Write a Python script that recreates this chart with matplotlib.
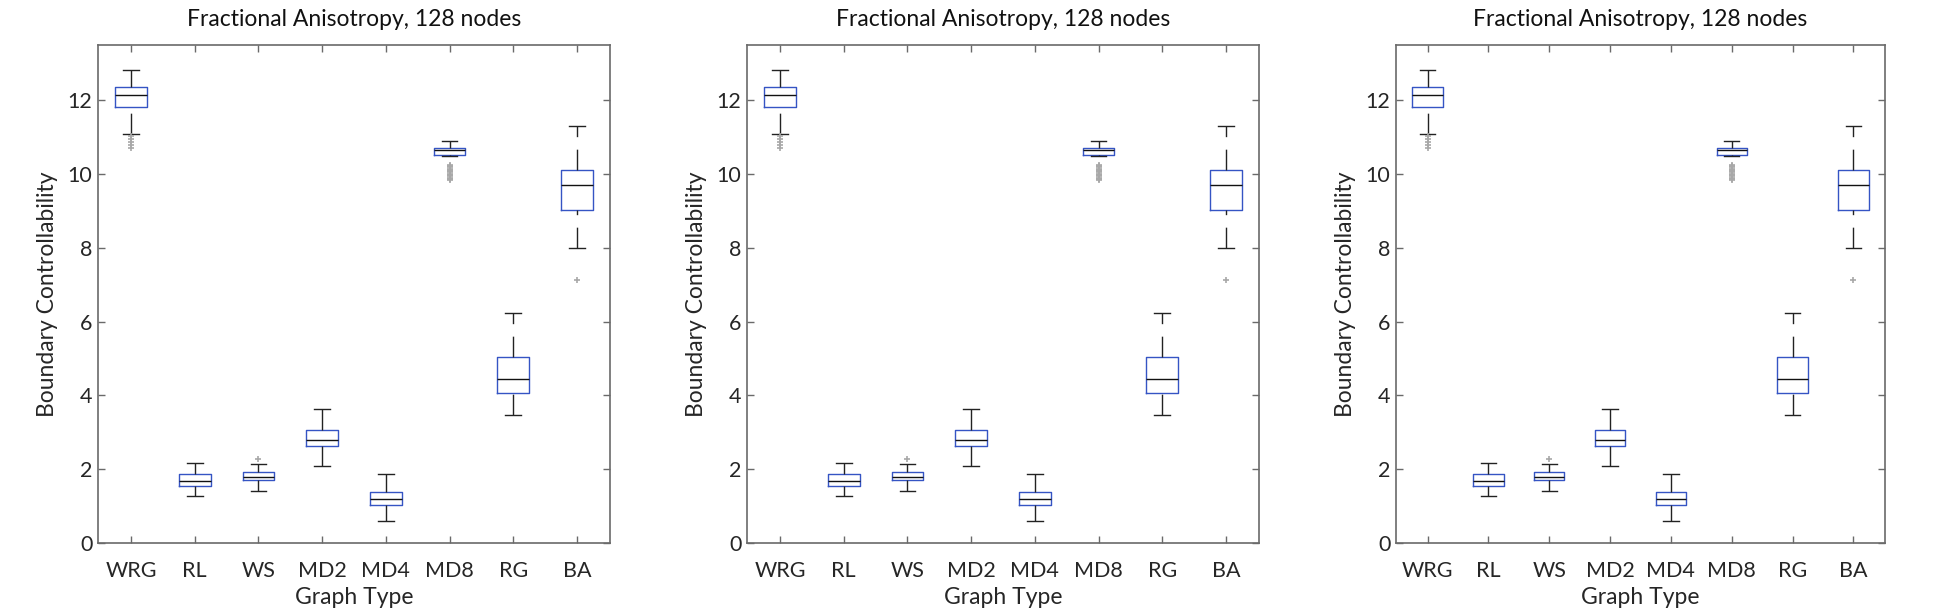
import numpy as np
import matplotlib
matplotlib.use("Agg")
import matplotlib.pyplot as plt

plt.rcParams['font.family'] = ['Lato', 'DejaVu Sans']

# graph types on the x axis
categories = ['WRG', 'RL', 'WS', 'MD2', 'MD4', 'MD8', 'RG', 'BA']

# box statistics (same in all three panels)
whislo = [11.08, 1.27, 1.40, 2.10, 0.59, 10.49, 3.48, 8.00]
q1 = [11.82, 1.54, 1.72, 2.63, 1.02, 10.53, 4.06, 9.03]
med = [12.14, 1.69, 1.80, 2.79, 1.19, 10.66, 4.44, 9.70]
q3 = [12.35, 1.88, 1.92, 3.05, 1.38, 10.72, 5.03, 10.12]
whishi = [12.83, 2.16, 2.13, 3.63, 1.87, 10.90, 6.24, 11.31]
fliers = [
    [11.03, 10.95, 10.87, 10.80, 10.72],
    [],
    [2.28],
    [],
    [],
    [10.26, 10.22, 10.19, 10.15, 10.12, 10.08, 10.05, 10.01, 9.98,
     9.94, 9.90, 9.86, 9.83],
    [],
    [7.14],
]

title = 'Fractional Anisotropy, 128 nodes'
xlabel = 'Graph Type'
ylabel = 'Boundary Controllability'
yticks = [0, 2, 4, 6, 8, 10, 12]

W, H = 1934, 611
# axes boxes in pixels: left, right (top/bottom shared)
panels = [(98, 610), (747, 1259), (1396, 1885)]
top, bottom = 45, 543

text_col = '#262626'
axis_col = '#6a6a6a'
box_col = '#3554c4'

fig = plt.figure(figsize=(W / 100, H / 100), dpi=100)

stats = []
for i in range(len(categories)):
    stats.append(dict(med=med[i], q1=q1[i], q3=q3[i], whislo=whislo[i],
                      whishi=whishi[i], fliers=fliers[i]))

for left, right in panels:
    ax = fig.add_axes([left / W, 1 - bottom / H, (right - left) / W,
                       (bottom - top) / H])
    art = ax.bxp(stats, positions=np.arange(1, 9), widths=0.5,
                 capwidths=0.25, showfliers=True,
                 boxprops=dict(color=box_col, linewidth=1.0),
                 medianprops=dict(color='#111111', linewidth=1.0),
                 whiskerprops=dict(color='#222222', linewidth=1.0,
                                   linestyle=(0, (15, 9))),
                 capprops=dict(color='#222222', linewidth=1.0),
                 flierprops=dict(marker='+', markeredgecolor='#a8a8a8',
                                 markersize=5, markeredgewidth=1.2,
                                 linestyle='none'))
    # matlab draws both whiskers bottom-up, so flip the lower one
    for w in art['whiskers'][0::2]:
        w.set_ydata(w.get_ydata()[::-1])

    ax.set_xlim(0.48, 8.52)
    ax.set_ylim(0, 13.5)
    ax.set_xticks(np.arange(1, 9))
    ax.set_xticklabels(categories)
    ax.set_yticks(yticks)
    ax.tick_params(direction='in', top=True, right=True, length=5,
                   width=1.0, color=axis_col, labelcolor=text_col,
                   labelsize=15.5)
    ax.tick_params(axis='x', pad=13)
    ax.tick_params(axis='y', pad=4)
    for s in ax.spines.values():
        s.set_color(axis_col)
        s.set_linewidth(1.2)
    ax.set_title(title, fontsize=16.5, color='#111111', pad=14)
    ax.set_xlabel(xlabel, fontsize=16.5, color=text_col, labelpad=4)
    ax.set_ylabel(ylabel, fontsize=16.5, color=text_col, labelpad=7)

fig.savefig('out.png', dpi=100)
